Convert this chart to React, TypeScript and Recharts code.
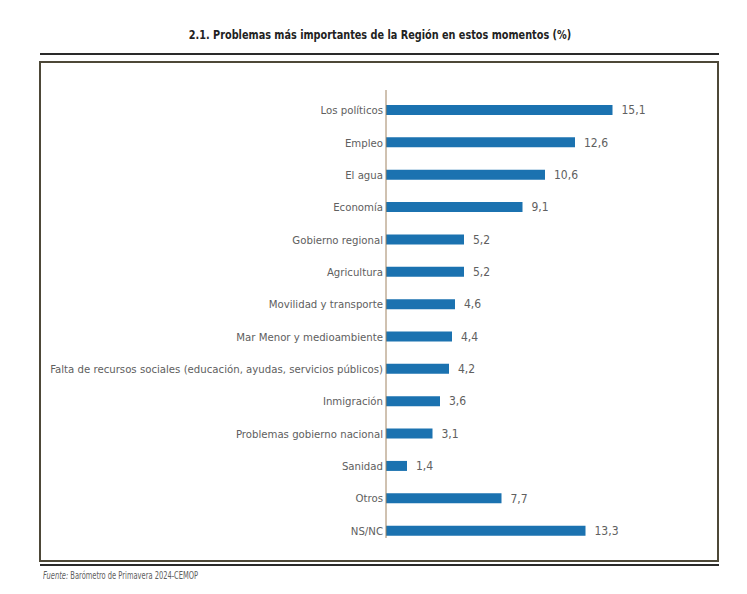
import React from "react";
import { BarChart, Bar, XAxis, YAxis, LabelList } from "recharts";

// Categories (top to bottom) and their percentages
const categories: string[] = [
  "Los políticos",
  "Empleo",
  "El agua",
  "Economía",
  "Gobierno regional",
  "Agricultura",
  "Movilidad y transporte",
  "Mar Menor y medioambiente",
  "Falta de recursos sociales (educación, ayudas, servicios públicos)",
  "Inmigración",
  "Problemas gobierno nacional",
  "Sanidad",
  "Otros",
  "NS/NC",
];

const percentages: number[] = [15.1, 12.6, 10.6, 9.1, 5.2, 5.2, 4.6, 4.4, 4.2, 3.6, 3.1, 1.4, 7.7, 13.3];

const titleText = "2.1. Problemas más importantes de la Región en estos momentos (%)";
const sourceLabel = "Fuente:";
const sourceText = " Barómetro de Primavera 2024-CEMOP";

const data = categories.map((name, i) => ({ name, value: percentages[i] }));

const FONT = '"DejaVu Sans Condensed", "Liberation Sans Narrow", "Arial Narrow", sans-serif';
const BAR_COLOR = "#1b72b0";
const TEXT_COLOR = "#606060";

const formatValue = (v: any) => String(v).replace(".", ",");

// Single-line category label, right-aligned against the axis
const CategoryTick = (props: any) => {
  const { x, y, payload } = props;
  return (
    <text
      x={x}
      y={y}
      dy={4}
      textAnchor="end"
      fill={TEXT_COLOR}
      fontSize={11.3}
      fontFamily={FONT}
    >
      {payload.value}
    </text>
  );
};

export default function App() {
  return (
    <div
      style={{
        position: "absolute",
        left: 0,
        top: 0,
        width: 747,
        height: 594,
        background: "#ffffff",
        fontFamily: FONT,
      }}
    >
      <div
        style={{
          position: "absolute",
          left: 41,
          width: 678,
          top: 27,
          textAlign: "center",
          fontWeight: "bold",
          fontSize: 13,
          color: "#222",
          transform: "scaleX(0.83)",
          transformOrigin: "center top",
          whiteSpace: "nowrap",
        }}
      >
        {titleText}
      </div>
      <div style={{ position: "absolute", left: 40, top: 53, width: 679, height: 2, background: "#2a2a2a" }} />
      <div
        style={{
          position: "absolute",
          left: 39,
          top: 61,
          width: 680,
          height: 501,
          boxSizing: "border-box",
          border: "2.5px solid #4d4838",
        }}
      />
      <div style={{ position: "absolute", left: 40, top: 564, width: 679, height: 1.5, background: "#2a2a2a" }} />
      <div
        style={{
          position: "absolute",
          left: 43,
          top: 569,
          fontSize: 10.5,
          color: TEXT_COLOR,
          whiteSpace: "nowrap",
          transform: "scaleX(0.71)",
          transformOrigin: "0 0",
        }}
      >
        <i>{sourceLabel}</i>
        {sourceText}
      </div>

      <div style={{ position: "absolute", left: 0, top: 0 }}>
        <BarChart
          width={747}
          height={594}
          data={data}
          layout="vertical"
          margin={{ top: 90, right: 61, bottom: 56, left: 0 }}
          barSize={10}
        >
          <XAxis type="number" domain={[0, 20]} hide />
          <YAxis
            type="category"
            dataKey="name"
            width={386}
            tickLine={false}
            tickSize={0}
            tickMargin={3}
            axisLine={{ stroke: "#a08462", strokeWidth: 1 }}
            padding={{ top: 4, bottom: -9 }}
            interval={0}
            tick={<CategoryTick />}
          />
          <Bar dataKey="value" fill={BAR_COLOR} isAnimationActive={false}>
            <LabelList
              dataKey="value"
              position="right"
              offset={9}
              formatter={formatValue}
              style={{ fill: TEXT_COLOR, fontSize: 12, fontFamily: FONT }}
            />
          </Bar>
        </BarChart>
      </div>
    </div>
  );
}
